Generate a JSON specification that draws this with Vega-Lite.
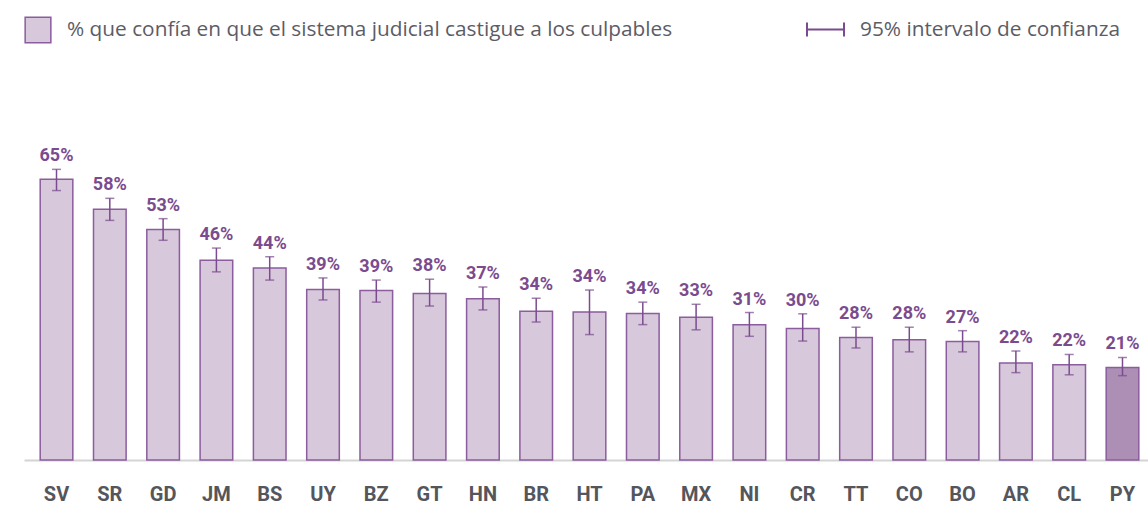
{
  "$schema": "https://vega.github.io/schema/vega-lite/v6.json",
  "width": 1131,
  "height": 346,
  "autosize": {"type": "none"},
  "padding": {"left": 24, "top": 114, "right": 0, "bottom": 47},
  "background": "white",
  "config": {"view": {"stroke": null}, "font": "Roboto"},
  "data": {
    "values": [
      {"pais": "SV", "valor": 64.9, "bajo": 62.3, "alto": 67.2, "etiqueta": "65%", "grupo": "% que confía en que el sistema judicial castigue a los culpables"},
      {"pais": "SR", "valor": 58.0, "bajo": 55.4, "alto": 60.5, "etiqueta": "58%", "grupo": "% que confía en que el sistema judicial castigue a los culpables"},
      {"pais": "GD", "valor": 53.3, "bajo": 50.8, "alto": 55.8, "etiqueta": "53%", "grupo": "% que confía en que el sistema judicial castigue a los culpables"},
      {"pais": "JM", "valor": 46.2, "bajo": 43.5, "alto": 49.0, "etiqueta": "46%", "grupo": "% que confía en que el sistema judicial castigue a los culpables"},
      {"pais": "BS", "valor": 44.4, "bajo": 41.6, "alto": 47.0, "etiqueta": "44%", "grupo": "% que confía en que el sistema judicial castigue a los culpables"},
      {"pais": "UY", "valor": 39.4, "bajo": 37.0, "alto": 42.1, "etiqueta": "39%", "grupo": "% que confía en que el sistema judicial castigue a los culpables"},
      {"pais": "BZ", "valor": 39.2, "bajo": 36.5, "alto": 41.6, "etiqueta": "39%", "grupo": "% que confía en que el sistema judicial castigue a los culpables"},
      {"pais": "GT", "valor": 38.5, "bajo": 35.6, "alto": 41.8, "etiqueta": "38%", "grupo": "% que confía en que el sistema judicial castigue a los culpables"},
      {"pais": "HN", "valor": 37.3, "bajo": 34.7, "alto": 40.0, "etiqueta": "37%", "grupo": "% que confía en que el sistema judicial castigue a los culpables"},
      {"pais": "BR", "valor": 34.4, "bajo": 31.9, "alto": 37.4, "etiqueta": "34%", "grupo": "% que confía en que el sistema judicial castigue a los culpables"},
      {"pais": "HT", "valor": 34.2, "bajo": 29.0, "alto": 39.3, "etiqueta": "34%", "grupo": "% que confía en que el sistema judicial castigue a los culpables"},
      {"pais": "PA", "valor": 33.9, "bajo": 31.3, "alto": 36.5, "etiqueta": "34%", "grupo": "% que confía en que el sistema judicial castigue a los culpables"},
      {"pais": "MX", "valor": 33.0, "bajo": 30.1, "alto": 36.0, "etiqueta": "33%", "grupo": "% que confía en que el sistema judicial castigue a los culpables"},
      {"pais": "NI", "valor": 31.3, "bajo": 28.6, "alto": 34.1, "etiqueta": "31%", "grupo": "% que confía en que el sistema judicial castigue a los culpables"},
      {"pais": "CR", "valor": 30.4, "bajo": 27.5, "alto": 33.8, "etiqueta": "30%", "grupo": "% que confía en que el sistema judicial castigue a los culpables"},
      {"pais": "TT", "valor": 28.3, "bajo": 25.9, "alto": 30.7, "etiqueta": "28%", "grupo": "% que confía en que el sistema judicial castigue a los culpables"},
      {"pais": "CO", "valor": 27.8, "bajo": 25.0, "alto": 30.7, "etiqueta": "28%", "grupo": "% que confía en que el sistema judicial castigue a los culpables"},
      {"pais": "BO", "valor": 27.4, "bajo": 25.0, "alto": 29.9, "etiqueta": "27%", "grupo": "% que confía en que el sistema judicial castigue a los culpables"},
      {"pais": "AR", "valor": 22.4, "bajo": 20.2, "alto": 25.2, "etiqueta": "22%", "grupo": "% que confía en que el sistema judicial castigue a los culpables"},
      {"pais": "CL", "valor": 22.0, "bajo": 19.7, "alto": 24.4, "etiqueta": "22%", "grupo": "% que confía en que el sistema judicial castigue a los culpables"},
      {"pais": "PY", "valor": 21.4, "bajo": 19.5, "alto": 23.7, "etiqueta": "21%", "grupo": "Paraguay"}
    ]
  },
  "encoding": {
    "x": {
      "field": "pais",
      "type": "nominal",
      "sort": null,
      "scale": {"paddingInner": 0.388, "paddingOuter": 0.304},
      "axis": {
        "title": null,
        "labelAngle": 0,
        "ticks": false,
        "domainColor": "#d4d4d4",
        "domainWidth": 2,
        "labelFont": "Roboto",
        "labelFontWeight": "bold",
        "labelFontSize": 20,
        "labelColor": "#55565c",
        "labelPadding": 24
      }
    }
  },
  "layer": [
    {
      "mark": {"type": "bar", "stroke": "#8b5c9e", "strokeWidth": 1.5},
      "encoding": {
        "y": {"field": "valor", "type": "quantitative", "scale": {"domain": [0, 80]}, "axis": null},
        "fill": {
          "field": "grupo",
          "type": "nominal",
          "scale": {"domain": ["% que confía en que el sistema judicial castigue a los culpables", "Paraguay"], "range": ["#d8c8dc", "#ad8fb6"]},
          "legend": {
            "orient": "none",
            "legendX": 0,
            "legendY": -98,
            "title": null,
            "values": ["% que confía en que el sistema judicial castigue a los culpables"],
            "symbolType": "square",
            "symbolSize": 660,
            "symbolStrokeColor": "#8b5c9e",
            "symbolStrokeWidth": 1.5,
            "symbolOpacity": 1,
            "labelFont": "Open Sans",
            "labelFontSize": 20.8,
            "labelColor": "#5c5c66",
            "labelOffset": 15,
            "labelLimit": 1000
          }
        }
      }
    },
    {
      "mark": {"type": "rule", "strokeWidth": 1.5},
      "encoding": {
        "y": {"field": "bajo", "type": "quantitative"},
        "y2": {"field": "alto"},
        "stroke": {
          "datum": "95% intervalo de confianza",
          "scale": {"range": ["#7b4b8f"]},
          "legend": {
            "orient": "none",
            "legendX": 782,
            "legendY": -104,
            "title": null,
            "symbolType": "M-1,-0.38V0.38M-1,0H1M1,-0.38V0.38",
            "symbolSize": 1369,
            "symbolStrokeWidth": 2,
            "labelFont": "Open Sans",
            "labelFontSize": 20.8,
            "labelColor": "#5c5c66",
            "labelOffset": 15,
            "labelLimit": 1000
          }
        }
      }
    },
    {
      "mark": {"type": "tick", "color": "#7b4b8f", "size": 9, "thickness": 1.5},
      "encoding": {"y": {"field": "alto", "type": "quantitative"}}
    },
    {
      "mark": {"type": "tick", "color": "#7b4b8f", "size": 9, "thickness": 1.5},
      "encoding": {"y": {"field": "bajo", "type": "quantitative"}}
    },
    {
      "mark": {"type": "text", "dy": -8, "baseline": "alphabetic", "fontSize": 18, "fontWeight": "bold", "font": "Roboto", "color": "#7b4b8f"},
      "encoding": {
        "y": {"field": "alto", "type": "quantitative"},
        "text": {"field": "etiqueta"}
      }
    }
  ]
}
